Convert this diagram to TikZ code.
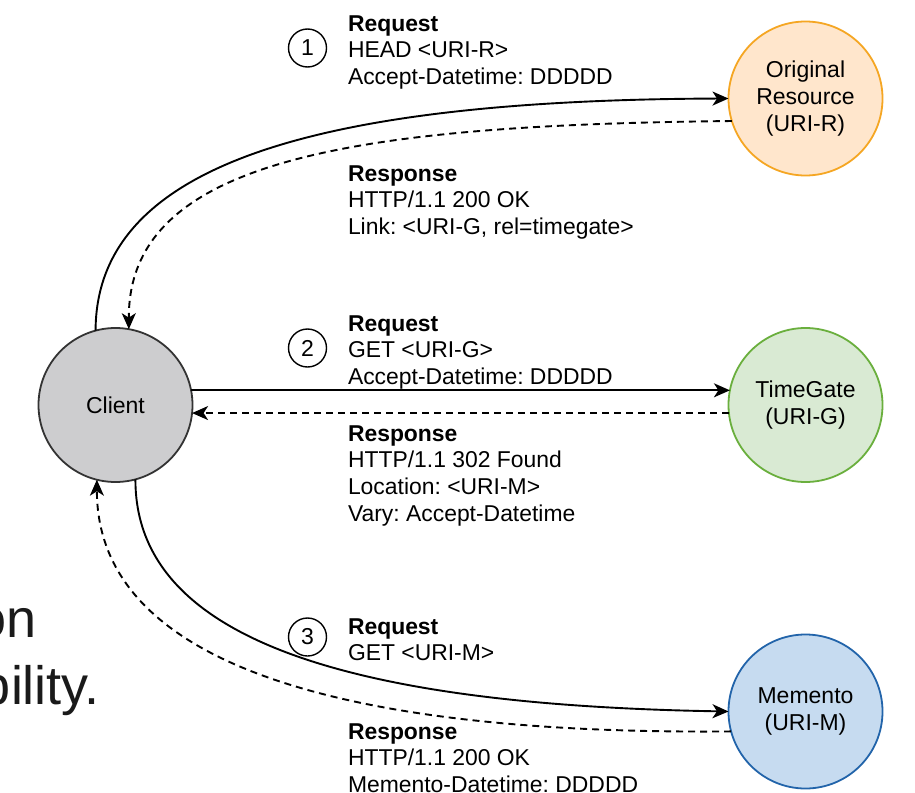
\documentclass[tikz,border=0pt]{standalone}
\usepackage{fontspec}
\setmainfont{Liberation Sans}
\usetikzlibrary{arrows.meta}
\definecolor{clientfill}{HTML}{CDCDCF}
\definecolor{clientdraw}{HTML}{333333}
\definecolor{origfill}{HTML}{FFE6CC}
\definecolor{origdraw}{HTML}{F5A623}
\definecolor{tgfill}{HTML}{D9EAD3}
\definecolor{tgdraw}{HTML}{6AAF3D}
\definecolor{memfill}{HTML}{C6DBF0}
\definecolor{memdraw}{HTML}{2264AA}
\definecolor{bigtext}{HTML}{1A1A1A}
\frenchspacing
\begin{document}
\begin{tikzpicture}[x=1pt,y=-1pt,
  every node/.style={inner sep=0pt, outer sep=0pt},
  state/.style={circle, minimum size=154pt, line width=1.8pt,
    font=\fontsize{23}{27}\selectfont, align=center},
  num/.style={circle, draw, minimum size=38pt, line width=1.4pt,
    font=\fontsize{23}{26}\selectfont},
  msg/.style={anchor=base west, align=left,
    font=\fontsize{22.9}{26.7}\selectfont},
  big/.style={anchor=base east, text=bigtext,
    font=\fontsize{54}{60}\selectfont},
  req/.style={line width=1.9pt, -{Stealth[length=16pt,width=14pt,inset=4.5pt]}},
  resp/.style={req, dash pattern=on 7pt off 5pt},
]
\useasboundingbox (0,0) rectangle (915,792);
\fill[white] (0,0) rectangle (915,792);

% background slide text fragments
\node[big] (bg1) at (37,637) {on};
\node[big] (bg2) at (100,704) {bility.};

% main nodes
\node[state, fill=clientfill, draw=clientdraw] (client) at (115.5,405) {Client};
\node[state, fill=origfill, draw=origdraw] (orig) at (805.5,98.5) {Original\\Resource\\(URI-R)};
\node[state, fill=tgfill, draw=tgdraw] (tg) at (805.5,405) {TimeGate\\(URI-G)};
\node[state, fill=memfill, draw=memdraw] (mem) at (805.5,711.5) {Memento\\(URI-M)};

% step numbers
\node[num] (n1) at (307.5,48) {1};
\node[num] (n2) at (307.5,348) {2};
\node[num] (n3) at (307.5,637) {3};

% message labels (anchored at the baseline of their last line)
\node[msg] (r1) at (348,84.4) {\textbf{Request}\\HEAD <URI-R>\\Accept-Datetime: DDDDD};
\node[msg] (s1) at (348,234.4) {\textbf{Response}\\HTTP/1.1 200 OK\\Link: <URI-G, rel=timegate>};
\node[msg] (r2) at (348,384.4) {\textbf{Request}\\GET <URI-G>\\Accept-Datetime: DDDDD};
\node[msg] (s2) at (348,521.1) {\textbf{Response}\\HTTP/1.1 302 Found\\Location: <URI-M>\\Vary: Accept-Datetime};
\node[msg] (r3) at (348,660.7) {\textbf{Request}\\GET <URI-M>};
\node[msg] (s3) at (348,792.4) {\textbf{Response}\\HTTP/1.1 200 OK\\Memento-Datetime: DDDDD};

% connectors
\draw[req] (client.105) .. controls (96,170) and (300,100) .. (orig.west);
\draw[resp] (orig.197) .. controls (350,125) and (128,160) .. (client.80);
\draw[req] (client.11) -- (tg.169);
\draw[resp] (tg.186) -- (client.-6);
\draw[req] (client.-75) .. controls (135,640) and (350,705) .. (mem.west);
\draw[resp] (mem.195) .. controls (330,735) and (97,660) .. (client.-104);
\end{tikzpicture}
\end{document}
